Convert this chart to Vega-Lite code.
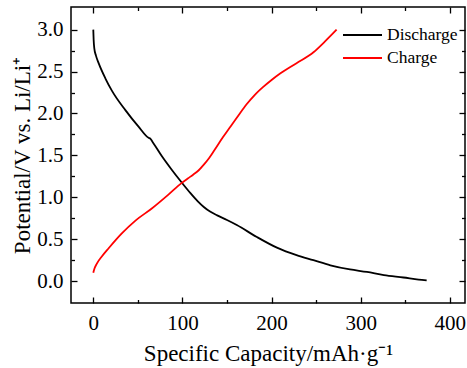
{
  "$schema": "https://vega.github.io/schema/vega-lite/v6.json",
  "autosize": "none",
  "width": 394,
  "height": 296,
  "padding": {"left": 71, "top": 7, "right": 2, "bottom": 65},
  "background": "white",
  "config": {
    "view": {"stroke": "black", "strokeWidth": 1.5},
    "axis": {"domain": false, "grid": false, "tickColor": "black", "tickWidth": 1.3, "labelColor": "black", "titleColor": "black", "labelFont": "Liberation Serif", "titleFont": "Liberation Serif", "titleFontWeight": "normal"}
  },
  "data": {"values": [
    {"series": "Discharge", "cap": 0, "v": 3.0},
    {"series": "Discharge", "cap": 0.4, "v": 2.88},
    {"series": "Discharge", "cap": 1.1, "v": 2.78},
    {"series": "Discharge", "cap": 3, "v": 2.69},
    {"series": "Discharge", "cap": 6, "v": 2.6},
    {"series": "Discharge", "cap": 13.5, "v": 2.42},
    {"series": "Discharge", "cap": 21, "v": 2.27},
    {"series": "Discharge", "cap": 36, "v": 2.04},
    {"series": "Discharge", "cap": 51, "v": 1.84},
    {"series": "Discharge", "cap": 62, "v": 1.71},
    {"series": "Discharge", "cap": 64, "v": 1.7},
    {"series": "Discharge", "cap": 66, "v": 1.67},
    {"series": "Discharge", "cap": 77, "v": 1.49},
    {"series": "Discharge", "cap": 88, "v": 1.33},
    {"series": "Discharge", "cap": 99, "v": 1.18},
    {"series": "Discharge", "cap": 109, "v": 1.05},
    {"series": "Discharge", "cap": 117, "v": 0.955},
    {"series": "Discharge", "cap": 124, "v": 0.885},
    {"series": "Discharge", "cap": 131, "v": 0.83},
    {"series": "Discharge", "cap": 139, "v": 0.785},
    {"series": "Discharge", "cap": 150, "v": 0.73},
    {"series": "Discharge", "cap": 161, "v": 0.67},
    {"series": "Discharge", "cap": 183, "v": 0.53},
    {"series": "Discharge", "cap": 206, "v": 0.4},
    {"series": "Discharge", "cap": 228, "v": 0.31},
    {"series": "Discharge", "cap": 247, "v": 0.25},
    {"series": "Discharge", "cap": 266, "v": 0.19},
    {"series": "Discharge", "cap": 288, "v": 0.14},
    {"series": "Discharge", "cap": 307, "v": 0.11},
    {"series": "Discharge", "cap": 326, "v": 0.072},
    {"series": "Discharge", "cap": 348, "v": 0.044},
    {"series": "Discharge", "cap": 365, "v": 0.02},
    {"series": "Discharge", "cap": 374, "v": 0.01},
    {"series": "Charge", "cap": 0, "v": 0.1},
    {"series": "Charge", "cap": 1, "v": 0.14},
    {"series": "Charge", "cap": 4, "v": 0.21},
    {"series": "Charge", "cap": 10, "v": 0.3},
    {"series": "Charge", "cap": 17, "v": 0.39},
    {"series": "Charge", "cap": 32, "v": 0.57},
    {"series": "Charge", "cap": 47, "v": 0.72},
    {"series": "Charge", "cap": 66, "v": 0.87},
    {"series": "Charge", "cap": 84, "v": 1.03},
    {"series": "Charge", "cap": 99, "v": 1.17},
    {"series": "Charge", "cap": 106, "v": 1.225},
    {"series": "Charge", "cap": 112, "v": 1.27},
    {"series": "Charge", "cap": 118, "v": 1.32},
    {"series": "Charge", "cap": 124, "v": 1.39},
    {"series": "Charge", "cap": 130, "v": 1.47},
    {"series": "Charge", "cap": 136, "v": 1.565},
    {"series": "Charge", "cap": 145, "v": 1.71},
    {"series": "Charge", "cap": 154, "v": 1.845},
    {"series": "Charge", "cap": 163, "v": 1.98},
    {"series": "Charge", "cap": 172, "v": 2.11},
    {"series": "Charge", "cap": 181, "v": 2.22},
    {"series": "Charge", "cap": 191, "v": 2.32},
    {"series": "Charge", "cap": 200, "v": 2.4},
    {"series": "Charge", "cap": 210, "v": 2.48},
    {"series": "Charge", "cap": 228, "v": 2.6},
    {"series": "Charge", "cap": 247, "v": 2.73},
    {"series": "Charge", "cap": 260, "v": 2.86},
    {"series": "Charge", "cap": 273, "v": 3.0}
  ]},
  "resolve": {"axis": {"x": "independent", "y": "independent"}},
  "layer": [
    {
      "mark": {"type": "line", "strokeWidth": 1.8, "interpolate": "monotone"},
      "encoding": {
        "x": {"field": "cap", "type": "quantitative", "scale": {"domain": [-25, 417], "nice": false, "zero": false},
          "axis": {"orient": "bottom", "values": [0, 100, 200, 300, 400], "tickSize": -6, "labelPadding": 15, "labelFont": "Liberation Serif", "labelFontSize": 21, "title": "Specific Capacity/mAh·g⁻¹", "titleFont": "Liberation Serif", "titleFontSize": 23, "titlePadding": 9}},
        "y": {"field": "v", "type": "quantitative", "scale": {"domain": [-0.26, 3.27], "nice": false, "zero": false},
          "axis": {"orient": "left", "values": [0, 0.5, 1, 1.5, 2, 2.5, 3], "format": ".1f", "tickSize": -6, "labelPadding": 14, "labelFont": "Liberation Serif", "labelFontSize": 21, "title": "Potential/V vs. Li/Li⁺", "titleFont": "Liberation Serif", "titleFontSize": 23, "titlePadding": 2}},
        "color": {"field": "series", "type": "nominal", "scale": {"domain": ["Discharge", "Charge"], "range": ["black", "red"]},
          "legend": {"orient": "none", "legendX": 271, "legendY": 19, "title": null, "padding": 0, "symbolType": "stroke", "symbolSize": 1521, "symbolStrokeWidth": 2, "clipHeight": 18, "rowPadding": 5, "labelFont": "Liberation Serif", "labelFontSize": 17.5, "labelColor": "black", "labelOffset": 4}}
      }
    },
    {
      "mark": {"type": "point", "opacity": 0},
      "encoding": {
        "x": {"field": "cap", "type": "quantitative", "scale": {"domain": [-25, 417], "nice": false, "zero": false},
          "axis": {"orient": "bottom", "values": [50, 150, 250, 350], "tickSize": -3.5, "labels": false, "title": null}},
        "y": {"field": "v", "type": "quantitative", "scale": {"domain": [-0.26, 3.27], "nice": false, "zero": false},
          "axis": {"orient": "left", "values": [0.25, 0.75, 1.25, 1.75, 2.25, 2.75], "tickSize": -3.5, "labels": false, "title": null}}
      }
    },
    {
      "mark": {"type": "point", "opacity": 0},
      "encoding": {
        "x": {"field": "cap", "type": "quantitative", "scale": {"domain": [-25, 417], "nice": false, "zero": false},
          "axis": {"orient": "top", "values": [0, 100, 200, 300, 400], "tickSize": -6, "labels": false, "title": null}},
        "y": {"field": "v", "type": "quantitative", "scale": {"domain": [-0.26, 3.27], "nice": false, "zero": false},
          "axis": {"orient": "right", "values": [0, 0.5, 1, 1.5, 2, 2.5, 3], "tickSize": -6, "labels": false, "title": null}}
      }
    },
    {
      "mark": {"type": "point", "opacity": 0},
      "encoding": {
        "x": {"field": "cap", "type": "quantitative", "scale": {"domain": [-25, 417], "nice": false, "zero": false},
          "axis": {"orient": "top", "values": [50, 150, 250, 350], "tickSize": -3.5, "labels": false, "title": null}},
        "y": {"field": "v", "type": "quantitative", "scale": {"domain": [-0.26, 3.27], "nice": false, "zero": false},
          "axis": {"orient": "right", "values": [0.25, 0.75, 1.25, 1.75, 2.25, 2.75], "tickSize": -3.5, "labels": false, "title": null}}
      }
    }
  ]
}
